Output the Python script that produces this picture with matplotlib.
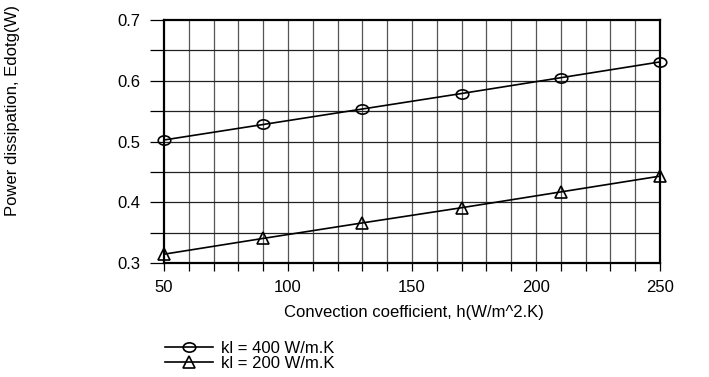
import numpy as np
import matplotlib
matplotlib.use("Agg")
import matplotlib.pyplot as plt
from matplotlib.path import Path
from matplotlib.transforms import Affine2D

plt.rcParams['font.family'] = ['Liberation Sans', 'DejaVu Sans']

h_values = [50, 90, 130, 170, 210, 250]
power_kl400 = [0.5025, 0.528, 0.5535, 0.579, 0.605, 0.631]
power_kl200 = [0.3145, 0.3405, 0.366, 0.391, 0.417, 0.443]
series_labels = ['kl = 400 W/m.K', 'kl = 200 W/m.K']
x_ticks = [50, 100, 150, 200, 250]
y_ticks = [0.3, 0.4, 0.5, 0.6, 0.7]

# slightly flattened circle marker
ellipse = Path.unit_circle().transformed(Affine2D().scale(1.35, 1.0))

fig = plt.figure(figsize=(7.09, 3.77), dpi=100)
ax = fig.add_axes([164 / 709, 1 - 263 / 377, 496 / 709, 243 / 377])

ax.set_xlim(50, 250)
ax.set_ylim(0.3, 0.7)

# grid every 10 in x and 0.05 in y
for gx in np.arange(60, 250, 10):
    ax.axvline(gx, color='#555555', lw=0.9, zorder=1)
for gy in np.arange(0.35, 0.7, 0.05):
    ax.axhline(gy, color='#222222', lw=0.9, zorder=1)

ax.plot(h_values, power_kl400, color='black', lw=1.2, marker=ellipse,
        markersize=9, markerfacecolor='none', markeredgewidth=1.2,
        clip_on=False, zorder=3, label=series_labels[0])
ax.plot(h_values, power_kl200, color='black', lw=1.2, marker='^',
        markersize=8.5, markerfacecolor='none', markeredgewidth=1.2,
        clip_on=False, zorder=3, label=series_labels[1])

ax.set_xticks(x_ticks)
ax.set_xticklabels([str(v) for v in x_ticks])
ax.set_xticks(np.arange(50, 251, 10), minor=True)
ax.set_yticks(y_ticks)
ax.set_yticklabels([f'{v:.1f}' for v in y_ticks])
ax.set_yticks(np.arange(0.3, 0.701, 0.05), minor=True)

ax.tick_params(axis='x', which='both', direction='out', length=6, width=0.9,
               labelsize=12, pad=6, colors='black')
ax.tick_params(axis='y', which='both', direction='out', length=10, width=0.9,
               labelsize=12, pad=7, colors='black')

for s in ax.spines.values():
    s.set_linewidth(1.6)
    s.set_color('black')
    s.set_zorder(4)

fig.text(414 / 709, 1 - 312 / 377, 'Convection coefficient, h(W/m^2.K)',
         ha='center', va='center', fontsize=12)
fig.text(13 / 709, 1 - 111 / 377, 'Power dissipation, Edotg(W)',
         ha='center', va='center', rotation=90, fontsize=12)

handles, labels = ax.get_legend_handles_labels()
leg = fig.legend(handles, labels, loc='upper left',
                 bbox_to_anchor=(153 / 709, 1 - 329 / 377),
                 frameon=False, fontsize=12, handlelength=2.9,
                 handletextpad=0.5, labelspacing=0.02, borderpad=0.2)

fig.savefig('out.png', dpi=100)
